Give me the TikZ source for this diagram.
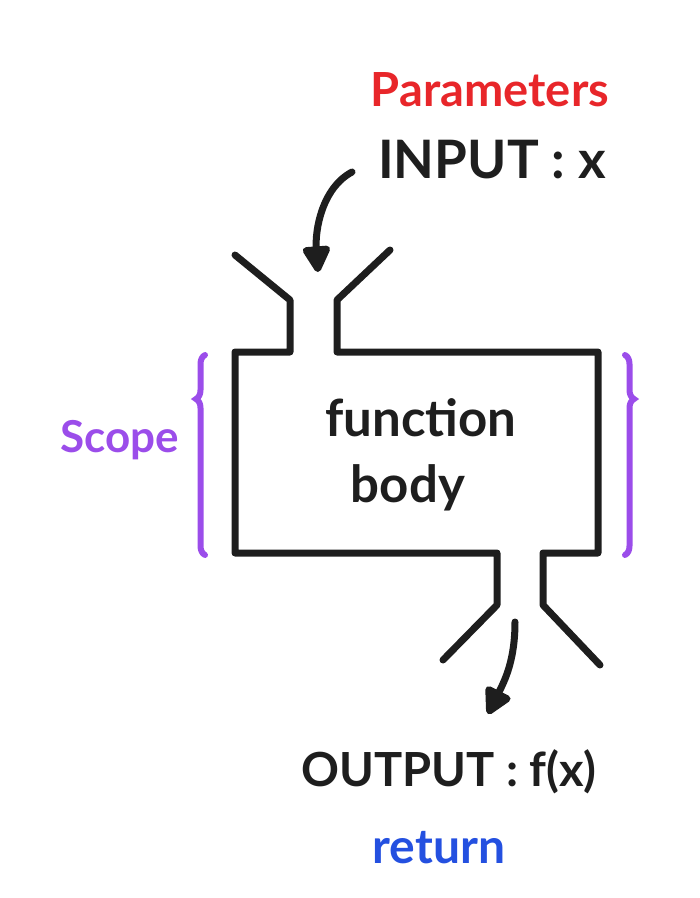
\documentclass[tikz,border=0pt]{standalone}
\usepackage{fontspec}
\setmainfont{Lato}
\usetikzlibrary{arrows.meta, decorations.pathreplacing}
\definecolor{cred}{HTML}{E8262A}
\definecolor{cpurple}{HTML}{9B4DEA}
\definecolor{cblue}{HTML}{2450E0}
\definecolor{cink}{HTML}{1E1E1E}

\tikzset{
  ink/.style={cink, line width=7pt, line cap=round, line join=round},
  arr/.style={ink, -{Triangle[length=30pt, width=30pt, round]}},
  curly/.style={cpurple, line width=6pt, line cap=round, decorate,
    decoration={brace, amplitude=9pt, aspect=#1}},
  lbl/.style={font=\fontsize{#1}{#1}\selectfont\bfseries},
}

\begin{document}
\begin{tikzpicture}[x=1pt, y=-1pt]
  \useasboundingbox (0,0) rectangle (700,898);

  % box with its funnels
  \draw[ink] (235,255) -- (290,300) -- (290,352) -- (235,352) -- (235,553)
    -- (497,553) -- (497,605) -- (443,660);
  \draw[ink] (390,250) -- (337,300) -- (337,352) -- (598,352) -- (598,553)
    -- (543,553) -- (543,605) -- (600,665);

  % labels
  \node[lbl=47, cred] (params) at (490,90) {Parameters};
  \node[lbl=53, cink] (inlbl) at (492,160) {INPUT : x};
  \node[lbl=51, cink] (fn) at (421,418) {function};
  \node[lbl=51, cink] (bd) at (408,488) {body};
  \node[lbl=44, cpurple] (scope) at (120,440) {Scope};
  \node[lbl=47, cink] (outlbl) at (449,772) {OUTPUT : f(x)};
  \node[lbl=48, cblue] (ret) at (439,848) {return};

  % scope braces
  \draw[curly=0.78] (205,555) -- (205,355);
  \draw[curly=0.22] (625,355) -- (625,555);

  % in and out
  \coordinate (instart) at (352,172);
  \coordinate (inend) at (318,272);
  \coordinate (outstart) at (515,622);
  \coordinate (outend) at (488,714);
  \draw[arr] (instart) .. controls (322,188) and (315,230) .. (inend);
  \draw[arr] (outstart) .. controls (515,660) and (505,680) .. (outend);
\end{tikzpicture}
\end{document}
